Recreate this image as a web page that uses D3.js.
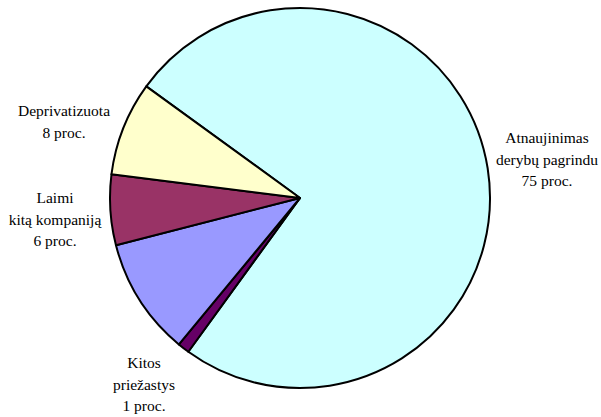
<!DOCTYPE html>
<html>
<head>
<meta charset="utf-8">
<script src="https://cdn.jsdelivr.net/npm/d3@7"></script>
<style>
  body { margin: 0; background: #fff; }
</style>
</head>
<body>
<svg id="chart" width="601" height="417"></svg>
<script>
// slices in drawing order (clockwise, starting at upper left)
const categories = ["Atnaujinimas derybų pagrindu", "Kitos priežastys", "", "Laimi kitą kompaniją", "Deprivatizuota"];
const values = [75, 1, 10, 6, 8];
const colors = ["#ccffff", "#660066", "#9999ff", "#993366", "#ffffcc"];
// label lines for each slice (blue slice has no label)
const labelLines = [
  ["Atnaujinimas", "derybų pagrindu", "75 proc."],
  ["Kitos", "priežastys", "1 proc."],
  [],
  ["Laimi", "kitą kompaniją", "6 proc."],
  ["Deprivatizuota", "8 proc."]
];

const svg = d3.select("#chart");
const cx = 300, cy = 198, radius = 190;

const data = categories.map((c, i) => ({ name: c, value: values[i], color: colors[i], lines: labelLines[i] }));

const startA = -54 * Math.PI / 180;
const pie = d3.pie().value(d => d.value).sort(null)
  .startAngle(startA).endAngle(startA + 2 * Math.PI);
const arc = d3.arc().innerRadius(0).outerRadius(radius);

const g = svg.append("g").attr("transform", `translate(${cx},${cy})`);
const arcs = pie(data);

g.selectAll("path")
  .data(arcs)
  .enter()
  .append("path")
  .attr("d", arc)
  .attr("fill", d => d.data.color)
  .attr("stroke", "#000")
  .attr("stroke-width", 2)
  .attr("stroke-linejoin", "round");

// label positions, placed outside the pie like the original
const labelPos = [
  { x: 547, y: 143 },
  { x: 144, y: 368 },
  null,
  { x: 55, y: 203 },
  { x: 64, y: 116 }
];

arcs.forEach((a, i) => {
  const p = labelPos[i];
  if (!p) return;
  a.data.lines.forEach((line, j) => {
    svg.append("text")
      .attr("text-anchor", "middle")
      .attr("x", p.x)
      .attr("y", p.y + j * 21.5)
      .style("font-family", "'Liberation Serif'")
      .style("font-size", "15.5px")
      .text(line);
  });
});
</script>
</body>
</html>
